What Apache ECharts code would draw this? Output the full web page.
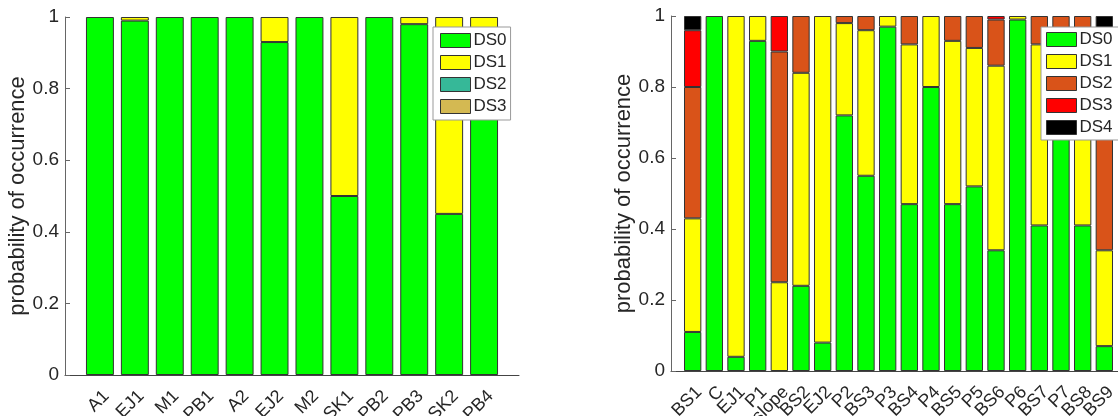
<!DOCTYPE html>
<html>
<head>
    <meta charset="utf-8">
    <title>probability of occurrence</title>
    <script src="https://cdn.jsdelivr.net/npm/echarts@6/dist/echarts.min.js"></script>
    <style>
        html, body { margin: 0; padding: 0; background: #fff; }
        #chart { width: 1118px; height: 416px; }
    </style>
</head>
<body>
<div id="chart"></div>
<script>
    // left chart
    var leftCats = ['A1', 'EJ1', 'M1', 'PB1', 'A2', 'EJ2', 'M2', 'SK1', 'PB2', 'PB3', 'SK2', 'PB4'];
    var leftDS0 = [1, 0.99, 1, 1, 1, 0.93, 1, 0.50, 1, 0.98, 0.45, 0.90];
    var leftDS1 = [0, 0.01, 0, 0, 0, 0.07, 0, 0.50, 0, 0.02, 0.55, 0.10];
    var leftDS2 = [0, 0, 0, 0, 0, 0, 0, 0, 0, 0, 0, 0];
    var leftDS3 = [0, 0, 0, 0, 0, 0, 0, 0, 0, 0, 0, 0];

    // right chart
    var rightCats = ['BS1', 'C', 'EJ1', 'P1', 'slope', 'BS2', 'EJ2', 'P2', 'BS3', 'P3',
        'BS4', 'P4', 'BS5', 'P5', 'BS6', 'P6', 'BS7', 'P7', 'BS8', 'BS9'];
    var rightDS0 = [0.11, 1, 0.04, 0.93, 0, 0.24, 0.08, 0.72, 0.55, 0.97, 0.47, 0.80, 0.47, 0.52, 0.34, 0.99, 0.41, 0.78, 0.41, 0.07];
    var rightDS1 = [0.32, 0, 0.96, 0.07, 0.25, 0.60, 0.92, 0.26, 0.41, 0.03, 0.45, 0.20, 0.46, 0.39, 0.52, 0.01, 0.51, 0.14, 0.51, 0.27];
    var rightDS2 = [0.37, 0, 0, 0, 0.65, 0.16, 0, 0.02, 0.04, 0, 0.08, 0, 0.07, 0.09, 0.13, 0, 0.08, 0.08, 0.08, 0.62];
    var rightDS3 = [0.16, 0, 0, 0, 0.10, 0, 0, 0, 0, 0, 0, 0, 0, 0, 0.01, 0, 0, 0, 0, 0];
    var rightDS4 = [0.04, 0, 0, 0, 0, 0, 0, 0, 0, 0, 0, 0, 0, 0, 0, 0, 0, 0, 0, 0.04];

    var leftColors = ['#00ff00', '#ffff00', '#36b898', '#d4b952'];
    var rightColors = ['#00ff00', '#ffff00', '#d95319', '#ff0000', '#000000'];
    var dsNames = ['DS0', 'DS1', 'DS2', 'DS3', 'DS4'];

    var font = "'Liberation Sans', Arial, Helvetica, sans-serif";
    var textColor = '#262626';

    // empty slot on each side so the axis runs from 0 to n+1 like matlab,
    // zero segments are skipped
    function pad(arr) {
        var d = arr.map(function (v) { return v === 0 ? '-' : v; });
        return ['-'].concat(d).concat(['-']);
    }

    function xAxisFor(gridIndex, cats) {
        return {
            type: 'category',
            gridIndex: gridIndex,
            data: [''].concat(cats).concat(['']),
            boundaryGap: false,
            axisLine: { show: true, lineStyle: { color: '#444', width: 1 } },
            axisTick: { show: false },
            axisLabel: {
                interval: 0,
                rotate: 45,
                margin: 12,
                verticalAlign: 'top',
                fontSize: 18,
                fontFamily: font,
                color: textColor
            },
            splitLine: { show: false }
        };
    }

    function yAxisFor(gridIndex) {
        return {
            type: 'value',
            gridIndex: gridIndex,
            min: 0,
            max: 1,
            interval: 0.2,
            name: 'probability of occurrence',
            nameLocation: 'middle',
            nameGap: 31,
            nameTextStyle: { fontSize: 22, fontFamily: font, color: textColor },
            axisLine: { show: true, lineStyle: { color: '#666', width: 1 } },
            axisTick: { show: true, inside: true, length: 5, lineStyle: { color: '#666' } },
            axisLabel: { margin: 6, fontSize: 19, fontFamily: font, color: textColor },
            splitLine: { show: false }
        };
    }

    function barSeries(name, data, color, idx, stack) {
        return {
            name: name,
            type: 'bar',
            stack: stack,
            xAxisIndex: idx,
            yAxisIndex: idx,
            barWidth: '80%',
            data: pad(data),
            itemStyle: { color: color, borderColor: '#333', borderWidth: 1 },
            emphasis: { disabled: true },
            animation: false
        };
    }

    function legendFor(colors, left, top, padding) {
        return {
            orient: 'vertical',
            left: left,
            top: top,
            icon: 'rect',
            itemWidth: 30,
            itemHeight: 14,
            itemGap: 5,
            padding: padding,
            backgroundColor: '#fff',
            borderColor: '#999',
            borderWidth: 1,
            selectedMode: false,
            textStyle: { fontSize: 17, lineHeight: 14, fontFamily: font, color: textColor, padding: [0, 0, 0, -2] },
            data: colors.map(function (c, i) {
                return { name: dsNames[i], itemStyle: { color: c, borderColor: '#333', borderWidth: 1 } };
            })
        };
    }

    var leftData = [leftDS0, leftDS1, leftDS2, leftDS3];
    var rightData = [rightDS0, rightDS1, rightDS2, rightDS3, rightDS4];

    var series = [];
    leftData.forEach(function (d, i) {
        series.push(barSeries(dsNames[i], d, leftColors[i], 0, 'left'));
    });
    rightData.forEach(function (d, i) {
        series.push(barSeries(dsNames[i], d, rightColors[i], 1, 'right'));
    });

    var myChart = echarts.init(document.getElementById('chart'));
    var option = {
        backgroundColor: '#fff',
        animation: false,
        grid: [
            { left: 65, top: 17, width: 454, height: 358, outerBoundsMode: 'none' },
            { left: 671, top: 16, width: 455, height: 355, outerBoundsMode: 'none' }
        ],
        xAxis: [xAxisFor(0, leftCats), xAxisFor(1, rightCats)],
        yAxis: [yAxisFor(0), yAxisFor(1)],
        legend: [
            legendFor(leftColors, 433, 27, [5, 4, 5, 7]),
            legendFor(rightColors, 1041, 27, [4, 6, 4, 5])
        ],
        series: series
    };
    myChart.setOption(option);
</script>
</body>
</html>
